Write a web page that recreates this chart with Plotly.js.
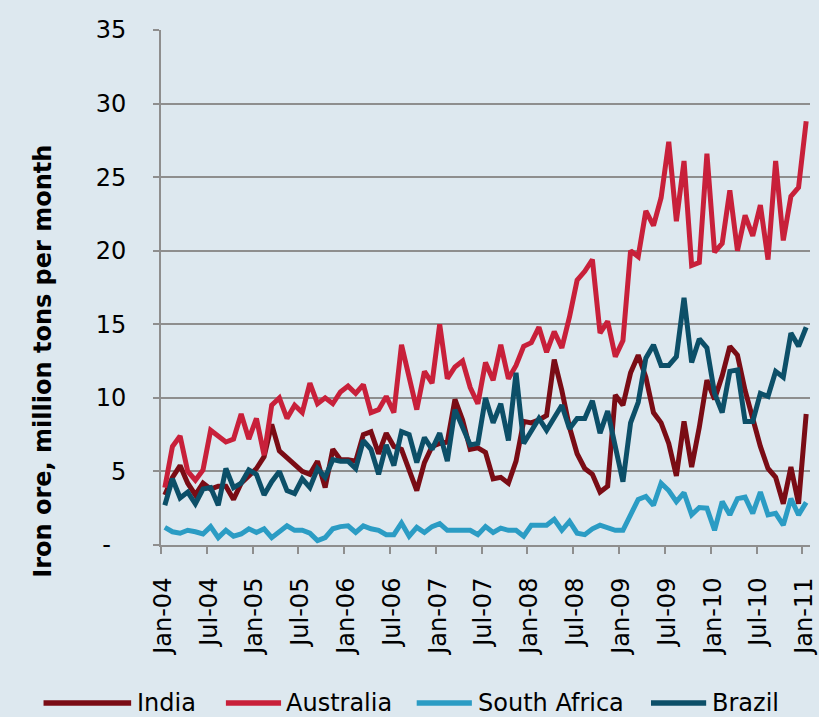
<!DOCTYPE html>
<html>
<head>
<meta charset="utf-8">
<script src="https://cdn.plot.ly/plotly-3.0.1.min.js"></script>
<style>
  html, body { margin: 0; padding: 0; background: #dde8ef; }
  #chart { width: 819px; height: 717px; }
</style>
</head>
<body>
<div id="chart"></div>
<script>
// Monthly data, Jan-2004 .. Jan-2011 (85 months)
var seriesNames = ["India", "Australia", "South Africa", "Brazil"];
var seriesColors = ["#7a0c15", "#c8203a", "#2b9cc4", "#0c4f68"];

var india = [3.4,4.6,5.4,4.2,3.4,4.2,3.8,4.0,4.0,3.1,4.2,4.7,
             5.2,6.0,8.2,6.4,5.9,5.5,5.0,4.8,5.7,3.9,6.5,5.8,
             5.8,5.7,7.5,7.7,6.2,7.6,6.7,6.5,5.1,3.7,5.6,6.7,
             6.9,7.0,9.9,8.5,6.5,6.6,6.3,4.5,4.6,4.2,5.7,8.4,
             8.3,8.5,8.8,12.6,10.5,8.0,6.2,5.2,4.8,3.6,4.0,10.2,
             9.5,11.7,12.9,11.4,9.0,8.3,6.9,4.7,8.4,5.3,8.0,11.2,
             9.9,11.5,13.5,12.9,10.5,8.5,6.7,5.2,4.6,2.8,5.3,2.8,
             8.9];
var australia = [3.9,6.7,7.4,5.0,4.4,5.1,7.8,7.4,7.0,7.2,8.9,7.2,
                 8.6,6.1,9.5,10.0,8.6,9.5,9.0,11.0,9.6,10.0,9.6,10.4,
                 10.8,10.3,10.9,9.0,9.2,10.1,9.0,13.6,11.4,9.2,11.8,11.0,
                 15.0,11.3,12.1,12.5,10.7,9.6,12.4,11.2,13.6,11.3,12.2,13.5,
                 13.75,14.8,13.1,14.5,13.4,15.5,18.0,18.6,19.4,14.4,15.2,12.8,
                 13.9,20.0,19.6,22.7,21.7,23.6,27.4,22.0,26.1,19.0,19.2,26.6,
                 19.9,20.5,24.1,20.0,22.4,21.0,23.1,19.4,26.1,20.7,23.7,24.3,
                 28.8];
var southAfrica = [1.2,0.9,0.8,1.0,0.9,0.75,1.25,0.5,1.0,0.6,0.75,1.1,
                   0.85,1.1,0.5,0.85,1.3,1.0,1.0,0.8,0.3,0.5,1.1,1.25,
                   1.3,0.85,1.3,1.1,1.0,0.7,0.7,1.5,0.6,1.2,0.85,1.25,
                   1.45,1.0,1.0,1.0,1.0,0.7,1.25,0.85,1.15,1.0,1.0,0.6,
                   1.35,1.35,1.35,1.75,1.0,1.6,0.8,0.7,1.1,1.35,1.15,1.0,
                   1.0,2.15,3.1,3.3,2.7,4.2,3.7,2.95,3.55,2.05,2.55,2.5,
                   1.0,2.95,2.05,3.15,3.25,2.15,3.6,2.05,2.15,1.35,3.15,2.05,
                   2.9];
var brazil = [2.7,4.5,3.2,3.6,2.8,3.8,3.9,2.7,5.2,3.9,4.2,5.1,
              4.8,3.4,4.3,5.0,3.7,3.5,4.5,3.9,5.2,4.6,5.8,5.7,
              5.7,5.2,7.1,6.5,4.8,6.8,5.4,7.7,7.5,5.6,7.3,6.5,
              7.6,5.7,9.2,7.9,6.8,6.9,10.0,8.3,9.6,7.1,11.7,6.9,
              7.8,8.6,7.8,8.7,9.5,7.9,8.6,8.6,9.8,7.6,9.1,6.7,
              4.3,8.3,9.7,12.7,13.6,12.2,12.2,12.8,16.8,12.4,14.0,13.4,
              10.3,9.0,11.8,11.9,8.4,8.4,10.3,10.1,11.8,11.4,14.4,13.5,
              14.8];

var xTickLabels = ["Jan-04","Jul-04","Jan-05","Jul-05","Jan-06","Jul-06","Jan-07",
                   "Jul-07","Jan-08","Jul-08","Jan-09","Jul-09","Jan-10","Jul-10","Jan-11"];
var yTickValues = [0,5,10,15,20,25,30,35];
var yTickLabels = ["-\u00a0\u00a0","5","10","15","20","25","30","35"];

var allSeries = [india, australia, southAfrica, brazil];

// month index -> position at the middle of the month slot
var xPos = india.map(function(_, i) { return i + 0.5; });
var xTickVals = xTickLabels.map(function(_, k) { return k * 6; });

var FONT = "DejaVu Sans, Verdana, sans-serif";
var GRID = "#8e8e8e";

var traces = allSeries.map(function(vals, s) {
  return {
    x: xPos, y: vals, type: "scatter", mode: "lines",
    name: seriesNames[s],
    line: { color: seriesColors[s], width: 5, shape: "linear" },
    hoverinfo: "skip", showlegend: false
  };
});

// manual legend (lines + text) below the chart
var legendLineX = [[-0.181, -0.046], [0.100, 0.185], [0.394, 0.479], [0.755, 0.840]];
var legendTextX = [-0.038, 0.191, 0.487, 0.847];
var legendY = -0.307;
var shapes = [], annotations = [];
seriesNames.forEach(function(n, s) {
  shapes.push({ type: "line", xref: "paper", yref: "paper",
    x0: legendLineX[s][0], x1: legendLineX[s][1], y0: legendY, y1: legendY,
    line: { color: seriesColors[s], width: 5.5 } });
  annotations.push({ xref: "paper", yref: "paper", x: legendTextX[s], y: legendY,
    xanchor: "left", yanchor: "middle", showarrow: false, borderpad: 0,
    text: n, font: { family: FONT, size: 24, color: "#000" } });
});
annotations.push({ xref: "paper", yref: "paper", x: -0.181, y: 0.357,
  xanchor: "center", yanchor: "middle", showarrow: false, textangle: -90,
  text: "<b>Iron ore, million tons per month</b>",
  font: { family: FONT, size: 24, color: "#000" } });

var layout = {
  width: 819, height: 717,
  margin: { l: 161, r: 9, t: 30, b: 172, pad: 0 },
  paper_bgcolor: "#dde8ef", plot_bgcolor: "#dde8ef",
  font: { family: FONT, size: 24, color: "#000" },
  showlegend: false,
  xaxis: {
    range: [0, 85], tickmode: "array", tickvals: xTickVals, ticktext: xTickLabels,
    tickangle: -90, ticks: "outside", ticklen: 7, tickwidth: 2, tickcolor: GRID,
    showline: true, linecolor: GRID, linewidth: 2, showgrid: false, zeroline: false,
    ticklabelshift: 2, ticklabelstandoff: 14, ticklabeloverflow: "allow",
    tickfont: { family: FONT, size: 24, color: "#000" }
  },
  yaxis: {
    range: [0, 35], tickmode: "array", tickvals: yTickValues, ticktext: yTickLabels,
    ticks: "outside", ticklen: 6, tickwidth: 2, tickcolor: GRID,
    showline: true, linecolor: GRID, linewidth: 2,
    showgrid: true, gridcolor: GRID, gridwidth: 2, zeroline: false,
    ticklabelstandoff: 22,
    tickfont: { family: FONT, size: 24, color: "#000" }
  },
  shapes: shapes,
  annotations: annotations
};

Plotly.newPlot("chart", traces, layout, { displayModeBar: false, staticPlot: true });
</script>
</body>
</html>
